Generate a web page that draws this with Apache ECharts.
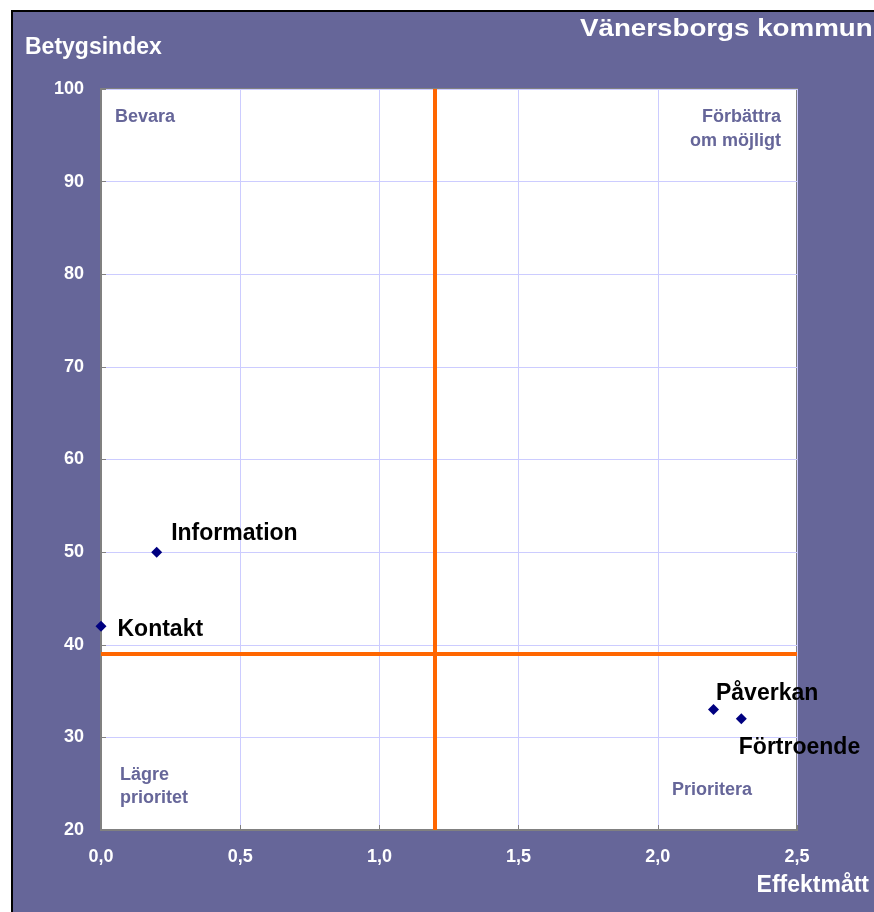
<!DOCTYPE html>
<html>
<head>
<meta charset="utf-8">
<script src="https://cdn.jsdelivr.net/npm/echarts@6/dist/echarts.min.js"></script>
<style>
html,body{margin:0;padding:0;background:#fff;}
#c{width:874px;height:912px;}
</style>
</head>
<body>
<div id="c"></div>
<script>
var categories = ['Information', 'Kontakt', 'Påverkan', 'Förtroende'];
var effektValues = [0.2, 0.0, 2.2, 2.3];
var betygValues = [50, 42, 33, 32];
var effektThreshold = 1.2;
var betygThreshold = 39;
var xTicks = { min: 0, max: 2.5, interval: 0.5 };
var yTicks = { min: 20, max: 100, interval: 10 };
var labelOffsets = [[9, -18], [11, 3], [-3, -16], [-8, 29]];

var FONT = "'Liberation Sans', Arial, sans-serif";
var BG = '#666699';

var chart = echarts.init(document.getElementById('c'));

var points = categories.map(function (name, i) {
  return {
    name: name,
    value: [effektValues[i], betygValues[i]],
    label: { offset: labelOffsets[i] }
  };
});

function t(x, y, text, opts) {
  var s = {
    text: text,
    fill: opts.fill || '#fff',
    font: opts.font,
    textAlign: opts.align || 'left',
    align: opts.align || 'left',
    textVerticalAlign: 'middle',
    verticalAlign: 'middle',
    lineHeight: opts.lineHeight
  };
  return { type: 'text', x: x, y: y, scaleX: opts.scaleX || 1, style: s, z: 100 };
}

var option = {
  animation: false,
  backgroundColor: '#ffffff',
  graphic: [
    { type: 'rect', shape: { x: 12, y: 11, width: 880, height: 920 },
      style: { fill: BG, stroke: '#000', lineWidth: 2 }, z: -10 },
    t(580, 29, 'Vänersborgs kommun', { font: 'bold 24px ' + FONT, scaleX: 1.155 }),
    t(25, 48, 'Betygsindex', { font: 'bold 23px ' + FONT }),
    t(869, 886, 'Effektmått', { font: 'bold 23px ' + FONT, align: 'right' }),
    t(115, 117, 'Bevara', { font: 'bold 18px ' + FONT, fill: BG }),
    t(781, 129, 'Förbättra\nom möjligt', { font: 'bold 18px ' + FONT, fill: BG, align: 'right', lineHeight: 24 }),
    t(120, 787, 'Lägre\nprioritet', { font: 'bold 18px ' + FONT, fill: BG, lineHeight: 23 }),
    t(672, 790, 'Prioritera', { font: 'bold 18px ' + FONT, fill: BG })
  ],
  grid: {
    left: 101, top: 89, width: 696, height: 741,
    show: true, backgroundColor: '#ffffff', borderColor: '#808080', borderWidth: 2,
    containLabel: false
  },
  xAxis: {
    type: 'value', min: xTicks.min, max: xTicks.max, interval: xTicks.interval,
    axisLine: { show: true, onZero: false, lineStyle: { color: '#808080', width: 2 } },
    axisTick: { show: true, inside: true, length: 5, lineStyle: { color: '#808080' } },
    splitLine: { show: true, lineStyle: { color: '#ccccff', width: 1 } },
    axisLabel: {
      color: '#fff', fontFamily: FONT, fontWeight: 'bold', fontSize: 18, margin: 18,
      formatter: function (v) { return v.toFixed(1).replace('.', ','); }
    }
  },
  yAxis: {
    type: 'value', min: yTicks.min, max: yTicks.max, interval: yTicks.interval,
    axisLine: { show: true, onZero: false, lineStyle: { color: '#808080', width: 2 } },
    axisTick: { show: true, inside: true, length: 5, lineStyle: { color: '#808080' } },
    splitLine: { show: true, lineStyle: { color: '#ccccff', width: 1 } },
    axisLabel: { color: '#fff', fontFamily: FONT, fontWeight: 'bold', fontSize: 18, margin: 17 }
  },
  series: [{
    type: 'scatter',
    symbol: 'diamond',
    symbolSize: 11,
    itemStyle: { color: '#000080', opacity: 1 },
    z: 10,
    label: {
      show: true, position: 'right', distance: 0,
      formatter: '{b}', color: '#000', fontFamily: FONT, fontWeight: 'bold', fontSize: 23
    },
    data: points,
    markLine: {
      silent: true, symbol: 'none', animation: false,
      label: { show: false },
      lineStyle: { color: '#ff6600', width: 4, type: 'solid' },
      data: [{ xAxis: effektThreshold }, { yAxis: betygThreshold }]
    }
  }]
};
chart.setOption(option);
</script>
</body>
</html>
